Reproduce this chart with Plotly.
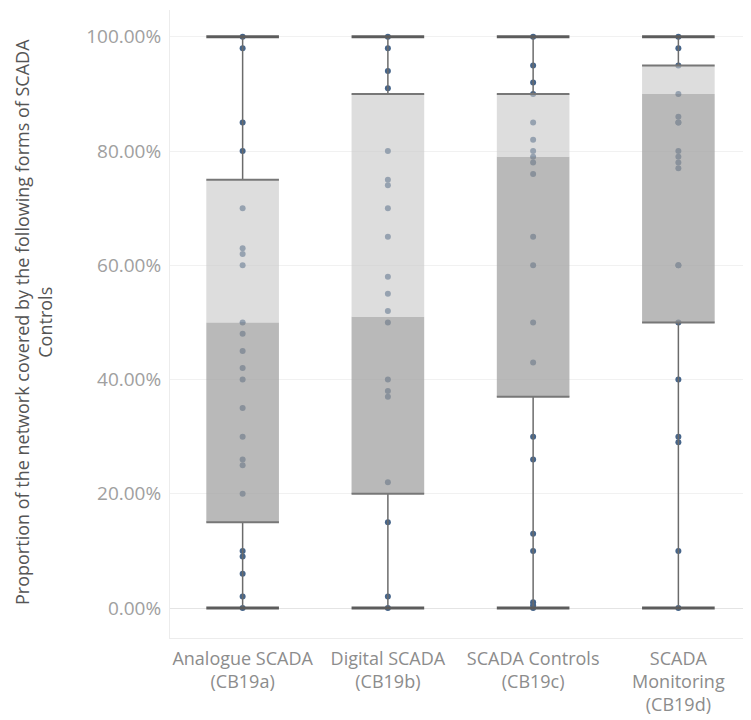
import plotly.graph_objects as go

categories = ["Analogue SCADA<br>(CB19a)", "Digital SCADA<br>(CB19b)",
              "SCADA Controls<br>(CB19c)", "SCADA<br>Monitoring<br>(CB19d)"]

analogue = [100, 98, 85, 80, 70, 63, 62, 60, 50, 48, 45, 42, 40, 35, 30, 26, 25, 20, 10, 9, 6, 2, 0]
digital = [100, 98, 94, 91, 80, 75, 74, 70, 65, 58, 55, 52, 50, 40, 38, 37, 22, 15, 2, 0]
controls = [100, 95, 92, 90, 85, 82, 80, 79, 78, 76, 65, 60, 50, 43, 30, 26, 13, 10, 1, 0.5, 0]
monitoring = [100, 98, 95, 90, 86, 85, 85, 80, 79, 78, 77, 60, 60, 50, 40, 30, 29, 10, 0]

series = [analogue, digital, controls, monitoring]

lower_fence = [0, 0, 0, 0]
q1 = [15, 20, 37, 50]
median = [50, 51, 79, 90]
q3 = [75, 90, 90, 95]
upper_fence = [100, 100, 100, 100]

tick_values = [0, 20, 40, 60, 80, 100]
tick_labels = [f"{v:.2f}%" for v in tick_values]

HALF = 0.25
fig = go.Figure()

# points (drawn first so the box shading fades them)
px, py = [], []
for i, vals in enumerate(series):
    px += [i] * len(vals)
    py += vals
fig.add_trace(go.Scatter(x=px, y=py, mode="markers",
                         marker=dict(size=6, color="#46658a"),
                         hoverinfo="y", showlegend=False))

# box shading: lower half (q1-median) darker, upper half (median-q3) lighter
for i in range(len(categories)):
    fig.add_trace(go.Scatter(
        x=[i - HALF, i + HALF, i + HALF, i - HALF, i - HALF],
        y=[q1[i], q1[i], median[i], median[i], q1[i]],
        mode="lines", fill="toself", line=dict(width=0),
        fillcolor="rgba(160,160,160,0.74)", hoverinfo="skip", showlegend=False))
    fig.add_trace(go.Scatter(
        x=[i - HALF, i + HALF, i + HALF, i - HALF, i - HALF],
        y=[median[i], median[i], q3[i], q3[i], median[i]],
        mode="lines", fill="toself", line=dict(width=0),
        fillcolor="rgba(200,200,200,0.62)", hoverinfo="skip", showlegend=False))

# whiskers
wx, wy = [], []
for i in range(len(categories)):
    wx += [i, i, None, i, i, None]
    wy += [lower_fence[i], q1[i], None, q3[i], upper_fence[i], None]
fig.add_trace(go.Scatter(x=wx, y=wy, mode="lines",
                         line=dict(color="#6b6b6b", width=1.5),
                         hoverinfo="skip", showlegend=False))

# box edges at q1 and q3
ex, ey = [], []
for i in range(len(categories)):
    ex += [i - HALF, i + HALF, None, i - HALF, i + HALF, None]
    ey += [q1[i], q1[i], None, q3[i], q3[i], None]
fig.add_trace(go.Scatter(x=ex, y=ey, mode="lines",
                         line=dict(color="#777777", width=2),
                         hoverinfo="skip", showlegend=False))

# whisker caps
cx, cy = [], []
for i in range(len(categories)):
    cx += [i - HALF, i + HALF, None, i - HALF, i + HALF, None]
    cy += [lower_fence[i], lower_fence[i], None, upper_fence[i], upper_fence[i], None]
fig.add_trace(go.Scatter(x=cx, y=cy, mode="lines",
                         line=dict(color="#5c5c5c", width=3),
                         hoverinfo="skip", showlegend=False))

fig.update_layout(
    width=743, height=712,
    margin=dict(l=162, r=0, t=2, b=82),
    paper_bgcolor="white", plot_bgcolor="white",
    font=dict(family="Open Sans", color="#8a8a8a"),
    xaxis=dict(range=[-0.5, 3.5], tickmode="array",
               tickvals=list(range(len(categories))), ticktext=categories,
               tickfont=dict(size=18, color="#8c8c8c"),
               showgrid=False, zeroline=False,
               showline=True, linecolor="#ececec", linewidth=1,
               ticks="", ticklabelstandoff=4, fixedrange=True),
    yaxis=dict(range=[-5.25, 104.7], tickmode="array", tickvals=tick_values,
               ticktext=tick_labels,
               tickfont=dict(size=19, color="#a0a0a0"),
               showgrid=True, gridcolor="#f1f1f1", gridwidth=1,
               zeroline=True, zerolinecolor="#e4e4e4", zerolinewidth=1,
               showline=True, linecolor="#ececec", linewidth=1,
               ticks="", ticklabelstandoff=4),
    annotations=[dict(
        text="Proportion of the network covered by the following forms of SCADA<br>Controls",
        textangle=-90, xref="paper", yref="paper",
        x=(25 - 162) / 581, y=(630 - 314) / 628,
        xanchor="center", yanchor="middle", showarrow=False, borderpad=0,
        font=dict(size=18, color="#555555", family="Open Sans"))],
)

fig.write_html("out.html")
